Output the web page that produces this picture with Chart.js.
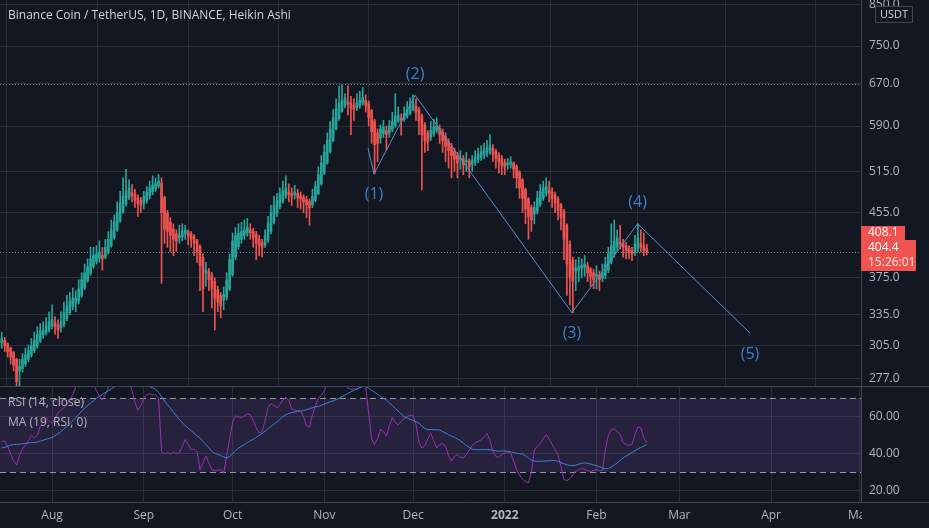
<!DOCTYPE html>
<html>
<head>
<meta charset="utf-8">
<title>BNB/USDT 1D Heikin Ashi</title>
<script src="https://cdn.jsdelivr.net/npm/chart.js@4.4.1/dist/chart.umd.min.js"></script>
<style>
  html, body { margin: 0; padding: 0; background: #131722; }
  #wrap { position: relative; width: 929px; height: 528px; overflow: hidden; }
  canvas { position: absolute; left: 0; }
  #priceChart { top: 0; }
  #rsiChart { top: 386px; }
</style>
</head>
<body>
<div id="wrap">
  <canvas id="priceChart" width="929" height="386"></canvas>
  <canvas id="rsiChart" width="929" height="142"></canvas>
</div>
<script>
// Dias contados a partir de 1 ago 2021 (dia 0); primeira vela em 15 jul
const firstDay = -17;

// Velas Heikin Ashi (10 por linha)
const haOpen = [
  308,310,307,303,299,293,283,285,289,293,
  297,301,305,310,315,317,320,324,327,325,
  322,325,331,337,343,347,349,355,363,371,
  379,387,393,397,400,398,404,412,422,432,
  444,456,467,476,483,481,476,472,468,472,
  478,484,489,493,497,476,454,442,433,427,
  422,423,427,430,427,424,418,411,398,380,
  381,377,370,361,355,350,353,362,378,398,
  411,420,425,428,432,430,426,420,416,413,
  419,430,442,454,463,471,478,484,482,480,
  482,479,476,473,470,466,472,482,496,512,
  528,546,565,585,603,617,627,634,632,627,
  623,627,632,637,632,618,599,578,569,577,
  582,578,584,591,599,605,602,607,613,620,
  626,620,609,592,578,570,576,582,586,580,
  572,563,555,547,540,534,535,530,531,526,
  529,533,537,541,544,548,552,547,541,535,
  529,525,526,528,523,514,502,488,474,462,
  453,457,466,475,482,487,484,480,474,466,
  457,438,414,395,382,383,385,386,388,384,
  380,376,377,374,377,383,392,402,410,416,
  415,412,409,406,404,409,415,412,409
];
const haHigh = [
  318,313,308,304,300,294,293,298,303,306,
  312,318,323,326,328,332,338,345,333,330,
  338,348,355,358,363,360,372,380,390,396,
  410,410,412,418,410,420,430,445,452,470,
  485,505,518,502,495,488,480,476,485,492,
  500,508,505,510,505,478,458,448,440,432,
  438,440,438,432,430,426,420,413,402,392,
  385,380,374,365,358,364,380,402,428,435,
  440,442,445,447,440,434,430,425,420,432,
  450,465,478,482,490,500,508,496,490,494,
  488,484,480,478,474,488,500,522,540,558,
  578,598,620,640,665,668,650,665,645,640,
  650,655,662,648,636,620,602,585,592,600,
  590,600,615,650,625,612,625,635,642,648,
  640,624,612,596,582,598,602,605,592,585,
  578,568,560,552,545,548,540,545,535,540,
  548,552,556,560,565,575,558,550,545,540,
  534,535,538,530,525,516,504,490,476,465,
  470,485,495,500,505,500,490,484,477,468,
  460,440,418,398,395,398,396,400,392,386,
  384,388,382,390,398,410,440,445,432,438,
  420,416,412,410,425,440,432,428,414
];
const haLow = [
  303,300,295,289,283,262,270,282,287,291,
  295,299,303,308,312,315,318,321,316,312,
  318,323,329,335,340,338,346,353,361,369,
  377,385,390,392,383,396,402,410,420,430,
  442,454,464,473,470,462,450,455,460,468,
  474,480,485,490,368,415,410,405,400,405,
  415,418,420,413,410,400,392,360,338,365,
  360,342,320,338,332,340,350,360,376,395,
  408,415,420,424,420,410,395,400,398,410,
  416,427,440,450,460,468,475,470,465,474,
  462,460,455,448,438,462,470,480,494,510,
  526,544,563,583,600,615,623,610,575,600,
  618,622,628,615,590,560,511,530,560,570,
  549,570,580,588,596,574,598,604,610,618,
  600,575,487,545,548,565,572,578,560,545,
  530,520,505,515,505,518,510,515,505,515,
  524,528,532,535,538,542,530,520,512,510,
  510,518,520,505,490,475,455,440,420,430,
  440,453,463,472,478,470,462,455,445,432,
  395,355,345,337,360,370,374,376,370,365,
  362,362,360,370,373,380,390,398,405,408,
  398,396,396,394,400,404,404,400,401
];
const haClose = [
  312,305,300,295,288,274,287,293,297,301,
  305,310,316,319,320,324,328,330,323,320,
  328,337,344,349,352,352,362,372,380,387,
  396,400,402,404,396,410,420,432,443,455,
  468,478,486,490,478,472,467,465,478,484,
  490,494,497,500,455,433,430,425,420,418,
  425,430,432,424,420,415,405,388,362,383,
  372,362,352,348,344,356,372,395,418,425,
  428,430,432,435,428,422,415,412,410,425,
  440,455,465,472,480,486,490,480,478,484,
  476,474,470,466,462,478,492,510,528,545,
  565,585,605,622,632,638,642,630,622,620,
  632,638,642,628,605,580,558,560,585,588,
  575,590,598,608,610,600,612,620,628,632,
  615,598,575,565,562,582,588,590,575,565,
  555,548,540,534,528,536,525,532,522,532,
  538,542,546,548,552,556,542,535,530,524,
  522,528,530,518,505,490,475,460,450,445,
  462,475,485,490,492,482,475,468,458,448,
  420,390,375,370,385,387,388,390,380,376,
  372,378,372,380,390,402,412,418,422,414,
  410,406,404,402,414,422,410,406,404
];

// RSI (14) e a sua média de 19
const rsiValues = [
  46.8,46.8,44,40,36,34,39,42.5,44.5,47,
  50,48.5,50,54.8,57.5,59.4,57.5,56.6,59,62,
  63.5,65,66.5,69,72,76,79,80,82,80,
  79,78,74,71,69,72,76,80,82,84,
  85,83,82,80,74,68,63.5,66,70,72,
  72.5,71.5,72,70,41,40,40.5,40,41,40,
  40.5,44,47.6,45,42.2,42.5,41,31.4,35,38.8,
  35,31.4,30.8,31,31.4,29.5,38.7,48,57,60.5,
  59.8,59.5,60.5,61.5,61,58,54,51.2,52,58,
  65,67,66,64.8,66.5,69,70.5,69,64,63.5,
  63.5,63,60,55,54.5,61,66,70,71.5,74,
  78,80,82,84,83,80,77,75.5,74.8,75,
  74.6,76,78,76,62,48,45,48,53,52,
  49.5,55,59.5,57,55.5,57.5,59,60,61,60.5,
  56,46,43,44.5,48,51,47,43,44.9,45.5,
  44,39,36,38.5,39.5,38,37.7,39.5,42,44.5,
  46,46.7,47.5,49,51,47,41.4,38.5,38,39.5,
  40.4,41,40.4,36,31.5,28.5,26.2,25,24.2,30,
  42,44,45.5,48,50.3,48,45,42,39.5,33,
  26,25.5,26.5,28.5,30.5,31.4,32,31.5,30.8,30.4,
  31,31.4,30.8,31,42,50,53,53.5,52,50.3,
  46,44.9,44.5,45,50,54.5,54,48.5,45.8
];
const maValues = [
  43.1,43.5,44,44.5,45,45,45.2,45.4,45.6,45.8,
  46,46,46.3,46.8,47.3,47.8,48.3,48.8,49.7,50.8,
  52,53.3,54.8,56.3,57.8,59.5,61.2,63,64.5,66,
  67.3,68.6,70,71,72,73,74,75,76,76.8,
  77.3,77.6,77.8,77.8,77.6,77.2,76.8,76.6,76.6,76.5,
  76.2,75.6,74.8,73,71,68.5,66.5,64.5,62.5,60.5,
  58.5,56.8,55.2,53.8,52.5,51,49.7,48.5,46.7,45,
  43.2,41.2,40.2,39.7,39,38.2,37.7,38.5,40,41.7,
  43,44,45,46,47,47.8,48.8,50,51,52.2,
  53.5,54.8,56,57.2,58.5,60,61,61.8,62.2,62.5,
  62.8,63,63.3,63.8,64.3,64.8,65.3,65.6,66.2,66.8,
  67.4,68,68.6,69.2,70,70.8,71.7,72.6,73.4,74.2,
  75,75.7,76.2,76.5,75.4,74.3,73.2,72.2,71,70,
  69,67.5,66,64.5,63,61.5,60,59.3,58.6,58,
  57.3,56.6,55,53.5,53,53,53,53,52.8,52,
  51.2,50.3,49.5,48.8,48,47,45.8,44.5,43.4,42.4,
  42.2,42.2,42.2,42.2,42.2,42.1,41.9,41.6,41.3,41.5,
  41.5,41.3,41,40.6,40.3,40,39.8,38.8,37.7,36.6,
  36,35.9,35.9,36,36.1,36.2,36.3,36.3,35.8,35.2,
  34.5,34,33.7,33.6,33.8,34.3,34.8,35,34.8,34.4,
  34,33.5,33,32.3,31.8,32,32.8,33.8,35,36.4,
  37.7,38.7,39.7,40.7,41.6,42.6,43.4,44.2,44.9
];

// Eixos
const monthDays = [0, 31, 61, 92, 122, 153, 184, 212, 243, 273];
const monthLabels = ['Aug', 'Sep', 'Oct', 'Nov', 'Dec', '2022', 'Feb', 'Mar', 'Apr', 'May'];
const priceTicks = [277, 305, 335, 375, 455, 515, 590, 670, 750, 850];
const rsiTicks = [20, 40, 60];

// Contagem de ondas de Elliott
const waveDays = [106.8, 108.8, 122.7, 175.7, 197.9, 235.9];
const wavePrices = [552, 511, 647, 337, 440, 317];
const waveLabels = ['', '(1)', '(2)', '(3)', '(4)', '(5)'];

const highLine = 670;
const lastPrice = 404.4;
const haLastPrice = 408.1;
const countdown = '15:26:01';

const days = haClose.map((_, i) => firstDay + i);

const X_MIN = -17.6, X_MAX = 273.4;
const BG = '#131722';
const GRID = '#2a2e39';
const EDGE = '#434651';
const TEXT = '#b2b5be';
const UP = '#26a69a';
const DOWN = '#ef5350';
const FONT = '"Open Sans", "DejaVu Sans", sans-serif';

// Remove o espaço extra que o Chart.js reserva para os rótulos
function noPadding(s) {
    s.paddingTop = 0;
    s.paddingBottom = 0;
    s.paddingLeft = 0;
    s.paddingRight = 0;
}

function monthScale(hidden) {
    return {
        type: 'linear',
        min: X_MIN,
        max: X_MAX,
        offset: false,
        afterBuildTicks: s => { s.ticks = monthDays.map(v => ({ value: v })); },
        afterFit: s => { s.height = hidden ? 0 : 26; noPadding(s); },
        ticks: {
            display: !hidden,
            color: TEXT,
            padding: 6,
            maxRotation: 0,
            autoSkip: false,
            font: ctx => ({
                family: FONT,
                size: 12,
                weight: (ctx.tick && ctx.tick.value === 153) ? 'bold' : 'normal'
            }),
            callback: v => monthLabels[monthDays.indexOf(v)]
        },
        grid: { color: GRID, drawTicks: false },
        border: { display: false }
    };
}

const background = {
    id: 'background',
    beforeDraw(chart) {
        const c = chart.ctx;
        c.save();
        c.fillStyle = BG;
        c.fillRect(0, 0, chart.width, chart.height);
        c.restore();
    }
};

// Gráfico de preço
function initPriceChart() {
    const ctx = document.getElementById('priceChart');
    const colors = haClose.map((c, i) => c >= haOpen[i] ? UP : DOWN);

    const overlay = {
        id: 'overlay',
        beforeDatasetsDraw(chart) {
            const c = chart.ctx, a = chart.chartArea, y = chart.scales.y;
            c.save();
            c.lineWidth = 1;
            c.strokeStyle = '#787b86';
            c.setLineDash([1, 2]);
            [highLine, lastPrice].forEach(v => {
                const py = Math.round(y.getPixelForValue(v)) + 0.5;
                c.beginPath();
                c.moveTo(a.left, py);
                c.lineTo(a.right, py);
                c.stroke();
            });
            c.restore();
        },
        afterDraw(chart) {
            const c = chart.ctx, x = chart.scales.x, y = chart.scales.y, a = chart.chartArea;
            c.save();
            // título
            c.fillStyle = '#d1d4dc';
            c.font = '12px ' + FONT;
            c.textBaseline = 'middle';
            c.textAlign = 'left';
            c.fillText('Binance Coin / TetherUS, 1D, BINANCE, Heikin Ashi', 8, 16);

            // rótulos das ondas
            c.fillStyle = '#3f7fc4';
            c.font = '16px ' + FONT;
            c.textAlign = 'center';
            for (let i = 1; i < waveDays.length; i++) {
                const px = x.getPixelForValue(waveDays[i]);
                const py = y.getPixelForValue(wavePrices[i]);
                const below = wavePrices[i] < wavePrices[i - 1];
                c.fillText(waveLabels[i], px, below ? py + 21 : py - 21);
            }

            // caixa USDT
            c.fillStyle = BG;
            c.fillRect(875, 6, 38, 17);
            c.strokeStyle = '#434651';
            c.lineWidth = 1;
            c.strokeRect(875.5, 6.5, 37, 16);
            c.fillStyle = '#d1d4dc';
            c.font = '11px ' + FONT;
            c.fillText('USDT', 894, 15);

            // etiquetas do preço atual
            const pLast = y.getPixelForValue(lastPrice);
            const top2 = Math.round(pLast) - 12;
            c.fillStyle = DOWN;
            c.fillRect(a.right, top2 - 14, 44, 14);
            c.fillRect(a.right, top2, 55, 31);
            c.fillStyle = '#ffffff';
            c.font = '12px ' + FONT;
            c.textAlign = 'left';
            c.fillText(haLastPrice.toFixed(1), a.right + 7, top2 - 7);
            c.fillText(lastPrice.toFixed(1), a.right + 7, top2 + 8);
            c.fillStyle = 'rgba(255,255,255,0.85)';
            c.fillText(countdown, a.right + 7, top2 + 23);
            c.restore();
        }
    };

    new Chart(ctx, {
        type: 'bar',
        data: {
            datasets: [
                {
                    type: 'line',
                    data: waveDays.map((d, i) => ({ x: d, y: wavePrices[i] })),
                    borderColor: '#5b8fc7',
                    borderWidth: 1,
                    pointRadius: 0,
                    tension: 0,
                    order: 0
                },
                {
                    data: days.map((d, i) => ({ x: d, y: [haOpen[i], haClose[i]] })),
                    backgroundColor: colors,
                    barThickness: 2,
                    grouped: false,
                    order: 1
                },
                {
                    data: days.map((d, i) => ({ x: d, y: [haLow[i], haHigh[i]] })),
                    backgroundColor: colors,
                    barThickness: 1,
                    grouped: false,
                    order: 2
                }
            ]
        },
        options: {
            responsive: false,
            animation: false,
            events: [],
            layout: { padding: 0 },
            plugins: { legend: { display: false }, tooltip: { enabled: false } },
            scales: {
                x: monthScale(true),
                y: {
                    type: 'logarithmic',
                    position: 'right',
                    min: 270.5,
                    max: 861,
                    afterBuildTicks: s => { s.ticks = priceTicks.map(v => ({ value: v })); },
                    afterFit: s => { s.width = 68; noPadding(s); },
                    ticks: {
                        color: TEXT,
                        padding: 8,
                        autoSkip: false,
                        font: { family: FONT, size: 12 },
                        callback: v => Number(v).toFixed(1)
                    },
                    grid: { color: GRID, drawTicks: false },
                    border: { display: true, color: EDGE }
                }
            }
        },
        plugins: [background, overlay]
    });
}

// Gráfico do RSI
function initRsiChart() {
    const ctx = document.getElementById('rsiChart');

    const bands = {
        id: 'bands',
        beforeDatasetsDraw(chart) {
            const c = chart.ctx, a = chart.chartArea, y = chart.scales.y;
            const y70 = Math.round(y.getPixelForValue(70)) + 0.5;
            const y30 = Math.round(y.getPixelForValue(30)) + 0.5;
            c.save();
            c.fillStyle = 'rgba(126, 87, 194, 0.18)';
            c.fillRect(a.left, y70, a.right - a.left, y30 - y70);
            c.strokeStyle = '#9598a1';
            c.lineWidth = 1;
            c.setLineDash([6, 4]);
            [y70, y30].forEach(py => {
                c.beginPath();
                c.moveTo(a.left, py);
                c.lineTo(a.right, py);
                c.stroke();
            });
            c.restore();
        },
        afterDraw(chart) {
            const c = chart.ctx, a = chart.chartArea;
            c.save();
            // separadores dos painéis
            c.strokeStyle = EDGE;
            c.lineWidth = 1;
            c.beginPath();
            c.moveTo(0, 0.5);
            c.lineTo(chart.width, 0.5);
            c.moveTo(0, a.bottom + 0.5);
            c.lineTo(chart.width, a.bottom + 0.5);
            c.stroke();
            // esconder parte do rótulo 'May' sob a escala
            c.fillStyle = BG;
            c.fillRect(a.right + 1, a.bottom + 1, chart.width - a.right, chart.height - a.bottom);
            // legenda
            c.fillStyle = TEXT;
            c.font = '12px ' + FONT;
            c.textBaseline = 'middle';
            c.fillText('RSI (14, close)', 8, 17);
            c.fillText('MA (19, RSI, 0)', 8, 37);
            c.restore();
        }
    };

    new Chart(ctx, {
        type: 'line',
        data: {
            datasets: [
                {
                    label: 'MA',
                    data: days.map((d, i) => ({ x: d, y: maValues[i] })),
                    borderColor: '#3a82d6',
                    borderWidth: 1,
                    pointRadius: 0,
                    tension: 0,
                    order: 0
                },
                {
                    label: 'RSI',
                    data: days.map((d, i) => ({ x: d, y: rsiValues[i] })),
                    borderColor: '#9a2fb0',
                    borderWidth: 1,
                    pointRadius: 0,
                    tension: 0,
                    order: 1
                }
            ]
        },
        options: {
            responsive: false,
            animation: false,
            events: [],
            layout: { padding: 0 },
            plugins: { legend: { display: false }, tooltip: { enabled: false } },
            scales: {
                x: monthScale(false),
                y: {
                    position: 'right',
                    min: 13.9,
                    max: 76.6,
                    afterBuildTicks: s => { s.ticks = rsiTicks.map(v => ({ value: v })); },
                    afterFit: s => { s.width = 68; noPadding(s); },
                    ticks: {
                        color: TEXT,
                        padding: 8,
                        autoSkip: false,
                        font: { family: FONT, size: 12 },
                        callback: v => Number(v).toFixed(2)
                    },
                    grid: { color: GRID, drawTicks: false },
                    border: { display: true, color: EDGE }
                }
            }
        },
        plugins: [background, bands]
    });
}

document.addEventListener('DOMContentLoaded', function() {
    initPriceChart();
    initRsiChart();
});
</script>
</body>
</html>
